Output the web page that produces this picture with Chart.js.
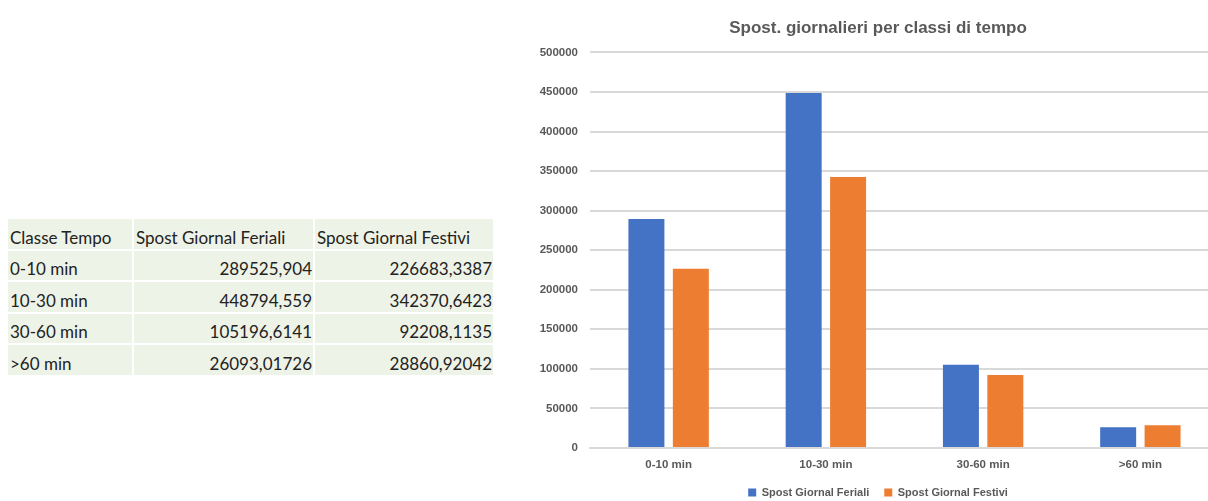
<!DOCTYPE html>
<html>
<head>
<meta charset="utf-8">
<script src="https://cdn.jsdelivr.net/npm/chart.js@4"></script>
<style>
  html, body { margin: 0; padding: 0; background: #fff; width: 1208px; height: 501px; overflow: hidden; position: relative; }
  table.dati {
    position: absolute; left: 6px; top: 217px;
    border-collapse: separate; border-spacing: 2px;
    font-family: Lato, "Open Sans", sans-serif; font-size: 17px; color: #222;
  }
  table.dati td { background: #eef3e7; height: 29.5px; padding: 0 1px 1px 2px; white-space: nowrap; vertical-align: bottom; box-sizing: border-box; }
  table.dati td.n { text-align: right; }
  #box { position: absolute; left: 520px; top: 0; width: 720px; height: 501px; }
</style>
</head>
<body>
<table class="dati" id="tab"></table>
<div id="box"><canvas id="c"></canvas></div>
<script>
// Spostamenti giornalieri per classe di tempo
const headers = ['Classe Tempo', 'Spost Giornal Feriali', 'Spost Giornal Festivi'];
const classi = ['0-10 min', '10-30 min', '30-60 min', '>60 min'];
const feriali = [289525.904, 448794.559, 105196.6141, 26093.01726];
const festivi = [226683.3387, 342370.6423, 92208.1135, 28860.92042];
const feriTesto = ['289525,904', '448794,559', '105196,6141', '26093,01726'];
const festTesto = ['226683,3387', '342370,6423', '92208,1135', '28860,92042'];
const colWidths = [124, 179, 178];

// tabella
const tab = document.getElementById('tab');
let tr = document.createElement('tr');
headers.forEach((h, i) => {
  const td = document.createElement('td');
  td.textContent = h;
  td.style.width = colWidths[i] + 'px';
  td.style.minWidth = colWidths[i] + 'px';
  tr.appendChild(td);
});
tab.appendChild(tr);
classi.forEach((c, i) => {
  const r = document.createElement('tr');
  [c, feriTesto[i], festTesto[i]].forEach((v, j) => {
    const td = document.createElement('td');
    td.textContent = v;
    if (j > 0) td.className = 'n';
    r.appendChild(td);
  });
  tab.appendChild(r);
});

// grafico
const grey = '#595959';
const font = 'Liberation Sans, Arial, sans-serif';
new Chart(document.getElementById('c'), {
  type: 'bar',
  data: {
    labels: classi,
    datasets: [
      { label: headers[1], data: feriali, backgroundColor: '#4472C4', categoryPercentage: 0.565, barPercentage: 0.81 },
      { label: headers[2], data: festivi, backgroundColor: '#ED7D31', categoryPercentage: 0.565, barPercentage: 0.81 }
    ]
  },
  options: {
    responsive: true,
    maintainAspectRatio: false,
    animation: false,
    layout: { padding: { left: 17, right: 21, bottom: -7 } },
    plugins: {
      title: {
        display: true,
        text: 'Spost. giornalieri per classi di tempo',
        color: grey,
        font: { family: font, size: 17, weight: 'bold' },
        padding: { top: 18, bottom: 14 }
      },
      legend: {
        position: 'bottom',
        labels: {
          color: grey,
          font: { family: font, size: 11, weight: 'bold' },
          boxWidth: 8, boxHeight: 8, padding: 15
        }
      },
      tooltip: { enabled: false }
    },
    scales: {
      x: {
        afterFit: s => { s.height = 24; },
        grid: { display: false, drawTicks: false },
        border: { display: true, color: '#d9d9d9', width: 2 },
        ticks: { color: grey, font: { family: font, size: 11.5, weight: 'bold', lineHeight: 1 }, padding: 11 }
      },
      y: {
        min: 0, max: 500000,
        afterFit: s => { s.width = 53; },
        grid: { color: '#d9d9d9', lineWidth: 2, drawTicks: false },
        border: { display: false },
        ticks: {
          stepSize: 50000, color: grey, padding: 12,
          font: { family: font, size: 11.5, weight: 'bold' },
          callback: v => String(v)
        }
      }
    }
  }
});
</script>
</body>
</html>
